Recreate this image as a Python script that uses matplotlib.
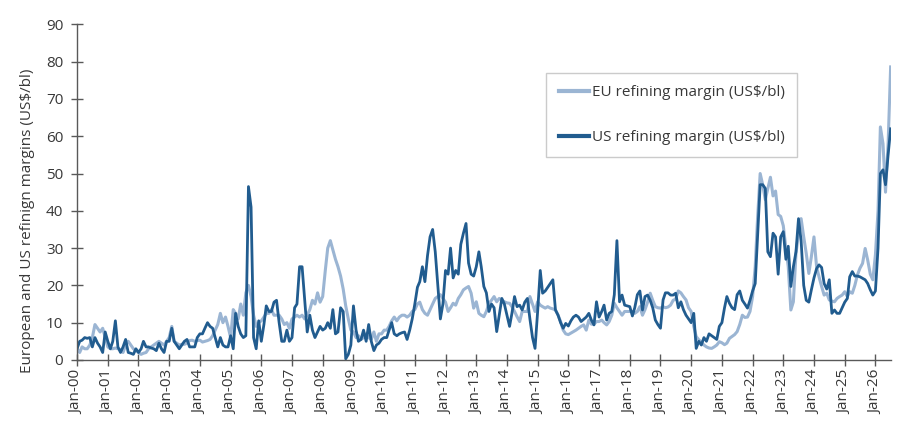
import matplotlib
matplotlib.use("Agg")
import matplotlib.pyplot as plt
import matplotlib.dates as mdates
import numpy as np
import pandas as pd

plt.rcParams["font.family"] = ["Open Sans", "DejaVu Sans"]

# monthly values, Jan-2000 onwards (US$/bl)
eu_margin = [
    3, 2, 3.5, 3, 3, 4, 6, 9.5, 8.5, 7.5, 8.5, 6,                       # 2000
    3.5, 3, 3, 3.2, 3, 2.8, 2, 4, 5, 4, 3, 2.5,                         # 2001
    2, 1.5, 1.8, 2, 3, 3.5, 4, 4.5, 5, 4.5, 4, 5,                       # 2002
    6, 9, 5, 4.5, 4, 4.2, 4.2, 4.5, 5.2, 5.3, 5, 5.2,                   # 2003
    5.3, 4.8, 5, 5.2, 5.5, 6.5, 8, 9.5, 12.5, 10, 11.5, 9,              # 2004
    6, 13.5, 12.5, 11, 15, 12, 18, 20, 17, 12, 9, 10,                   # 2005
    10.5, 11.5, 12.5, 12.5, 13.5, 12, 12, 12, 11, 9.5, 10, 8.5,         # 2006
    11, 11.5, 12, 11.5, 12, 11, 12, 13.5, 16, 15, 18, 15.5,             # 2007
    17, 24, 30, 32, 29.5, 27, 25, 22.5, 19, 14.5, 11, 8,                # 2008
    7.5, 6, 6.5, 5.5, 6, 7, 6, 5.5, 7.5, 5, 7, 7,                       # 2009
    8, 8, 9, 10.5, 11.5, 10.5, 11.5, 12, 12, 11.5, 12, 13,              # 2010
    13.5, 15, 15.5, 13.5, 12.5, 12, 13.5, 15, 16.5, 17, 17.5, 16.5,     # 2011
    15.5, 13, 14, 15.2, 14.7, 16.5, 17.5, 18.8, 19.3, 19.7, 17.9, 13.9, # 2012
    15.6, 12.5, 12, 11.6, 13, 15.2, 16, 17, 15.6, 16.5, 16, 15.6,       # 2013
    15.3, 15.2, 14.3, 13, 11.6, 10.3, 13, 13, 13, 17, 15, 13,           # 2014
    15.6, 14.7, 14.3, 13.9, 14.3, 13.9, 13.7, 13.4, 12, 10.3, 8, 7,     # 2015
    6.8, 7.2, 7.6, 8, 8.5, 9, 9.4, 8, 10.7, 9.6, 9.6, 10.3,             # 2016
    10.3, 10.7, 10, 9.4, 10.3, 12, 15.2, 14, 13, 12, 13, 13,            # 2017
    13, 13, 12.5, 13, 14.3, 12, 13.5, 15.5, 17.9, 16, 14.3, 14,         # 2018
    13.9, 14.3, 14, 14.2, 14.7, 16, 16.3, 18.5, 18, 17, 16.1, 14,       # 2019
    13, 9, 6.3, 5.4, 4.8, 4, 3.5, 3.2, 3.1, 3.5, 4, 4.9,                # 2020
    4.6, 4.1, 4.5, 5.8, 6.3, 6.8, 7.6, 9.5, 12, 11.4, 11.5, 13,         # 2021
    17, 25, 38, 50, 47, 43, 46, 49, 44, 45.3, 39, 38.5,                 # 2022
    36, 30, 25, 13.4, 15.6, 28.6, 33.9, 37.9, 33, 28.6, 23.2, 27.7,     # 2023
    33, 25, 22.3, 19.7, 17.4, 17.9, 16.1, 15.8, 15.6, 16.5, 17, 17.4,   # 2024
    18.3, 17, 18.3, 17.9, 20, 22.8, 24.6, 25.9, 29.9, 26.8, 23, 21.5,   # 2025
    28.2, 40, 62.5, 58, 45, 58, 78.6,                                   # 2026
]

us_margin = [
    3, 5, 5.3, 6, 5.8, 6, 3.5, 6, 4.5, 3.5, 2, 7.5,                     # 2000
    5, 3, 5, 10.5, 3.5, 2, 3.5, 5.5, 2, 1.8, 1.5, 3,                    # 2001
    2, 3, 5, 3.5, 3.5, 3.2, 3, 2.5, 4.5, 3, 2, 5,                       # 2002
    5, 8.5, 5, 4, 3, 4, 5, 5.5, 3.5, 3.5, 3.5, 6,                       # 2003
    7, 7, 8.5, 10, 9, 8.5, 6, 3.5, 6, 4, 3.5, 3.5,                      # 2004
    6.5, 3, 12.5, 9, 7, 6, 6.5, 46.5, 41, 6, 3, 10.5,                   # 2005
    5, 9.5, 14.5, 13, 13, 15.5, 16, 10, 5, 5, 8, 5,                     # 2006
    6, 14, 15, 25, 25, 16, 7.5, 12, 8, 6, 7.5, 9,                       # 2007
    8, 8.5, 10, 8.5, 13.5, 7, 7.5, 14, 13, 0.3, 1.5, 4,                 # 2008
    14.5, 8, 5, 5.5, 8, 5, 9.5, 5, 2.5, 4, 4.5, 5.5,                    # 2009
    6, 6, 8, 10, 7, 6.5, 7, 7.3, 7.5, 5.5, 8, 11,                       # 2010
    15, 19.5, 21, 25, 21, 28, 33, 35, 29, 20, 11, 15,                   # 2011
    24, 23, 30, 22, 24, 23, 31, 34, 36.6, 26, 23, 22.5,                 # 2012
    25, 29, 25, 19.7, 18, 13, 15, 14, 7.6, 12, 16.5, 15,                # 2013
    12, 9, 12.5, 17, 14.3, 14.7, 13.4, 15.5, 16.5, 11, 6, 3.1,          # 2014
    13, 24, 17.9, 18.5, 19.5, 20.5, 21.5, 13.4, 12, 10, 8.5, 9.8,       # 2015
    9.1, 10.5, 11.5, 12, 11.5, 10.3, 10.9, 11.5, 12.5, 10.7, 9.4, 15.6, # 2016
    11.5, 13, 14.7, 10.7, 12.5, 13, 17.5, 32, 15.6, 17.4, 14.7, 14.5,   # 2017
    14.3, 11.8, 14, 17.5, 18.5, 13.4, 17, 17.4, 16, 14, 10.7, 9.5,      # 2018
    8.5, 16.1, 18, 18, 17.4, 17.4, 17.9, 14, 15.6, 13.5, 12, 11,        # 2019
    10, 12.5, 3.1, 5, 4, 6, 5, 7, 6.5, 6, 5.5, 9,                       # 2020
    10, 14, 17, 15.2, 14, 13.5, 17.5, 18.5, 16, 15, 13.9, 16,           # 2021
    18.5, 20.5, 33, 47, 47, 46, 29, 27.7, 34, 33, 23, 33,               # 2022
    34.4, 27, 30.5, 19.7, 25, 29, 37.9, 32, 20, 16, 15.5, 18.8,         # 2023
    22, 24.5, 25.5, 24.8, 20.5, 19, 21.5, 12.5, 13.4, 12.5, 12.5, 14,   # 2024
    15.5, 16.5, 22.3, 23.7, 22.5, 22.5, 22.3, 21.9, 21.5, 20.5, 18.8, 17.4,  # 2025
    18.5, 30, 50, 51, 47, 55, 62,                                       # 2026
]

dates = pd.date_range("2000-01-01", periods=len(eu_margin), freq="MS")

eu_color = "#9bb5d3"
us_color = "#215c8f"
text_color = "#383838"
axis_color = "#595959"

fig = plt.figure(figsize=(8.99, 4.28), dpi=100)
ax = fig.add_axes([0.0857, 0.159, 0.905, 0.784])

ax.plot(dates, eu_margin, color=eu_color, lw=2.2, label="EU refining margin (US$/bl)")
ax.plot(dates, us_margin, color=us_color, lw=2.0, label="US refining margin (US$/bl)")

ax.set_xlim(dates[0], dates[-1])
ax.set_ylim(0, 90)
ax.set_yticks(np.arange(0, 91, 10))

ax.xaxis.set_major_locator(mdates.YearLocator())
ax.xaxis.set_major_formatter(mdates.DateFormatter("%b-%y"))
plt.setp(ax.get_xticklabels(), rotation=90)

ax.tick_params(axis="both", direction="inout", length=8, width=1,
               color=axis_color, labelcolor=text_color, labelsize=11)
ax.tick_params(axis="y", pad=6)
ax.tick_params(axis="x", pad=3)

ax.set_ylabel("European and US refinign margins (US$/bl)", fontsize=11,
              color=text_color)
ax.yaxis.set_label_coords(-0.052, 0.414)

for side in ["top", "right"]:
    ax.spines[side].set_visible(False)
for side in ["left", "bottom"]:
    ax.spines[side].set_color(axis_color)
    ax.spines[side].set_linewidth(1)

leg = ax.legend(loc="upper left", bbox_to_anchor=(0.577, 0.855),
                fontsize=11, frameon=True, fancybox=False,
                handlelength=1.95, handletextpad=0.2, labelspacing=1.95,
                borderpad=0.8, borderaxespad=0)
leg.get_frame().set_edgecolor("#bfbfbf")
leg.get_frame().set_linewidth(1)
for t in leg.get_texts():
    t.set_color(text_color)
for h in leg.get_lines():
    h.set_linewidth(3)

fig.savefig("out.png", dpi=100)
